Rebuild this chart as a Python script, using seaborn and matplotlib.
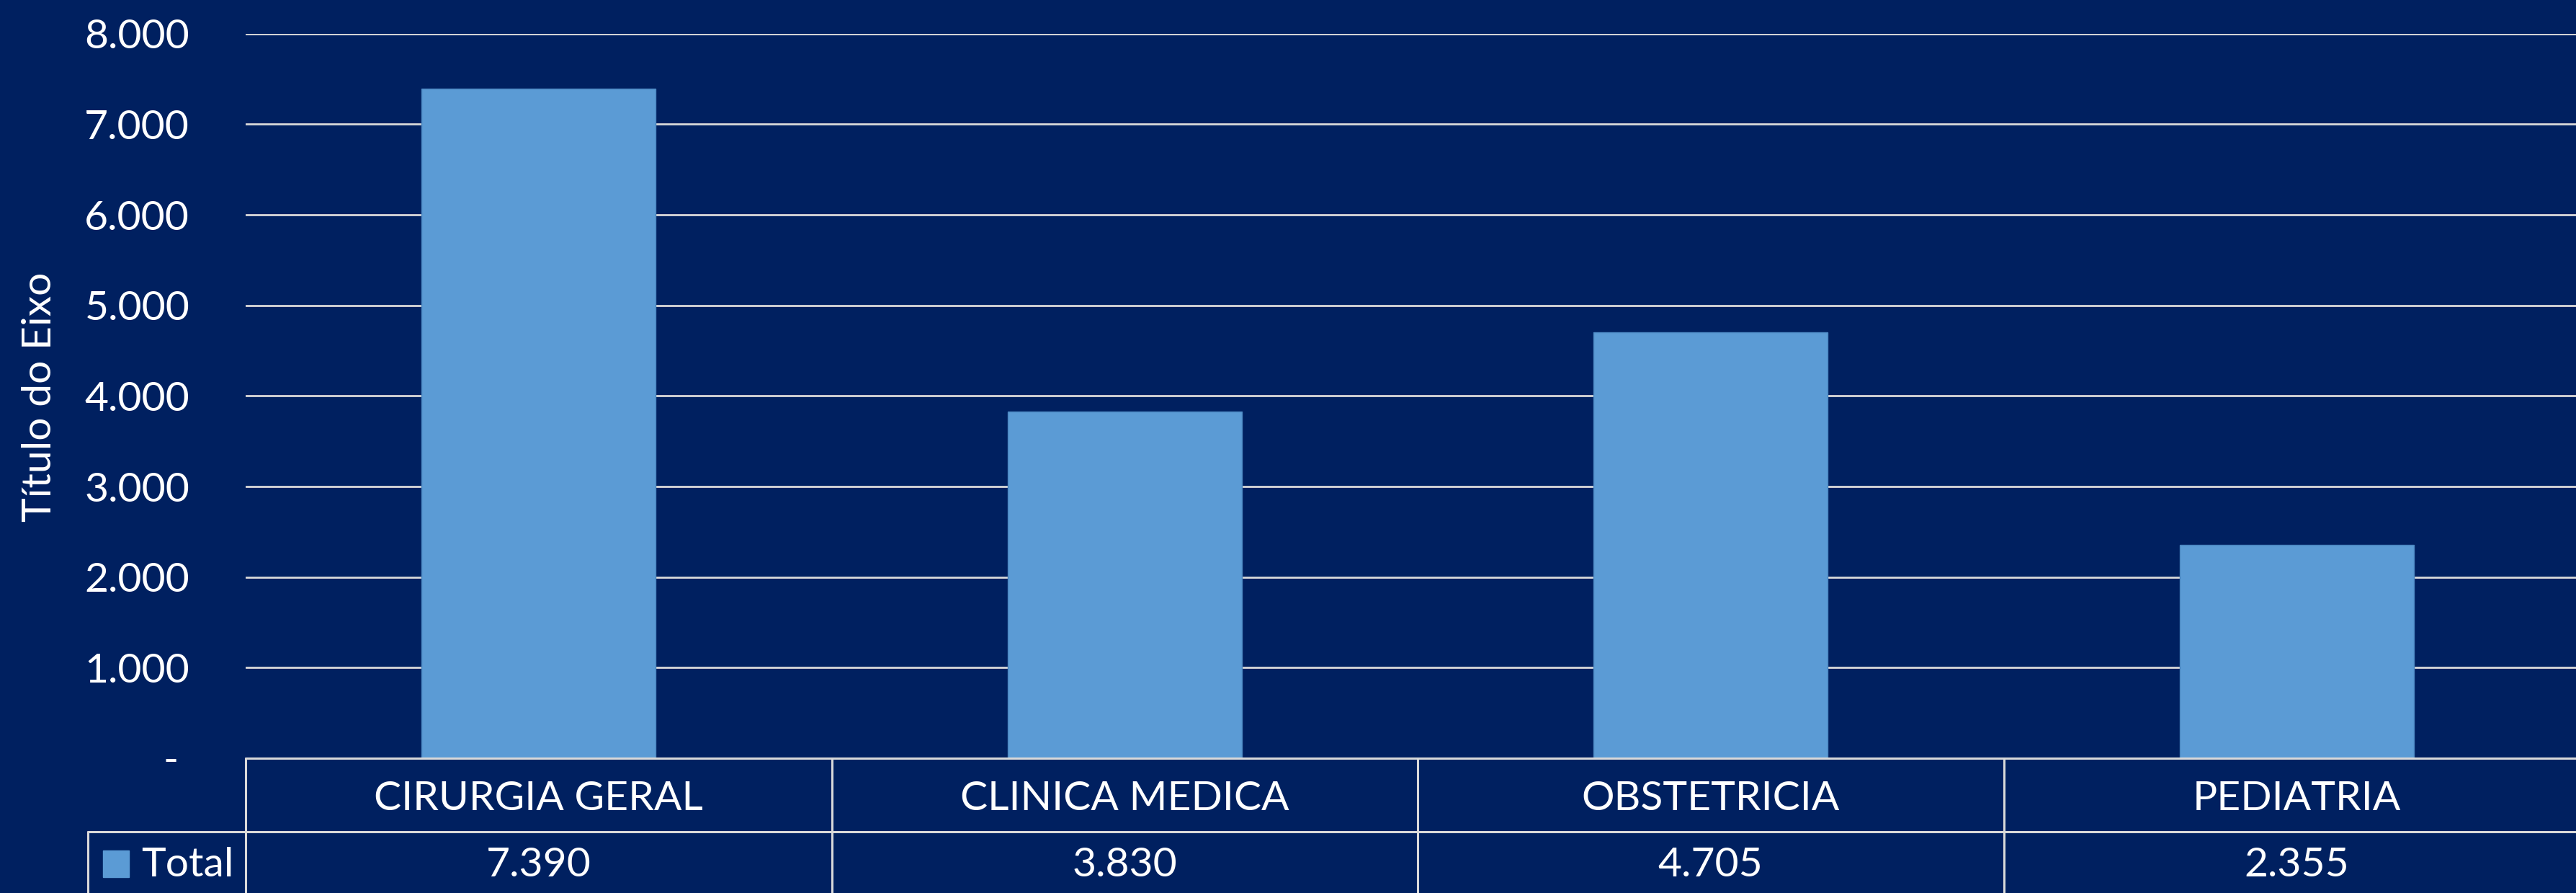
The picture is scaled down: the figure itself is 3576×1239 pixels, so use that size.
import matplotlib
matplotlib.use("Agg")
import matplotlib.pyplot as plt
from matplotlib.patches import Rectangle
from matplotlib.lines import Line2D
import seaborn as sns
import pandas as pd

categories = ["CIRURGIA GERAL", "CLINICA MEDICA", "OBSTETRICIA", "PEDIATRIA"]
totals = [7390, 3830, 4705, 2355]
value_labels = ["7.390", "3.830", "4.705", "2.355"]
series_name = "Total"
y_ticks = [0, 1000, 2000, 3000, 4000, 5000, 6000, 7000, 8000]
y_tick_labels = ["-", "1.000", "2.000", "3.000", "4.000", "5.000", "6.000", "7.000", "8.000"]
y_title = "Título do Eixo"

BG = "#002060"
BAR = "#5B9BD5"
GRID = "#D9D9D9"
W, H = 3576, 1239
FS = 41

sns.set_theme(style="white")
plt.rcParams["font.family"] = ["Lato", "DejaVu Sans"]

fig = plt.figure(figsize=(W / 100, H / 100), dpi=100, facecolor=BG)
left, right = 341, 3595
top, bottom = 46.7, 1052
ax = fig.add_axes([left / W, 1 - bottom / H, (right - left) / W, (bottom - top) / H])
ax.set_facecolor(BG)

df = pd.DataFrame({"cat": categories, "val": totals})
sns.barplot(data=df, x="cat", y="val", color=BAR, width=0.4, ax=ax,
            saturation=1, edgecolor="#4A86C0", linewidth=1, zorder=3)
ax.set_xlim(-0.5, len(categories) - 0.5)
ax.set_ylim(0, 8000)
ax.set_yticks(y_ticks)
ax.set_yticklabels([l if l != "-" else "- " for l in y_tick_labels],
                   color="white", fontsize=FS)
ax.tick_params(axis="y", length=0, pad=56)
ax.set_xticks([])
ax.set_xlabel("")
ax.set_ylabel("")
for s in ax.spines.values():
    s.set_visible(False)
for t in y_ticks[1:]:
    ax.axhline(t, color=GRID, lw=2, zorder=1)

fig.text(56 / W, 1 - 551 / H, y_title, rotation=90, color="white",
         fontsize=FS, ha="center", va="center")

def fx(px):
    return px / W
def fy(py):
    return 1 - py / H

row1_top, row1_bot, row2_bot = 1052, 1154, 1262
cell_w = (right - left) / len(categories)
lw = 2.2
fig.add_artist(Line2D([fx(left), fx(right)], [fy(row1_top)] * 2, color=GRID, lw=lw))
fig.add_artist(Line2D([fx(122), fx(right)], [fy(row1_bot)] * 2, color=GRID, lw=lw))
for i in range(len(categories) + 1):
    x = left + i * cell_w
    fig.add_artist(Line2D([fx(x)] * 2, [fy(row1_top), fy(row2_bot)], color=GRID, lw=lw))
fig.add_artist(Line2D([fx(122)] * 2, [fy(row1_bot), fy(row2_bot)], color=GRID, lw=lw))

for i, (c, v) in enumerate(zip(categories, value_labels)):
    cx = left + (i + 0.5) * cell_w
    fig.text(fx(cx), fy(1108), c, color="white", fontsize=FS, ha="center", va="center")
    fig.text(fx(cx), fy(1200), v, color="white", fontsize=FS, ha="center", va="center")

fig.add_artist(Rectangle((fx(143), fy(1217)), 36 / W, 37 / H, color=BAR,
                         transform=fig.transFigure))
fig.text(fx(196), fy(1200), series_name, color="white", fontsize=FS,
         ha="left", va="center")

fig.savefig("out.png", dpi=100, facecolor=BG)
